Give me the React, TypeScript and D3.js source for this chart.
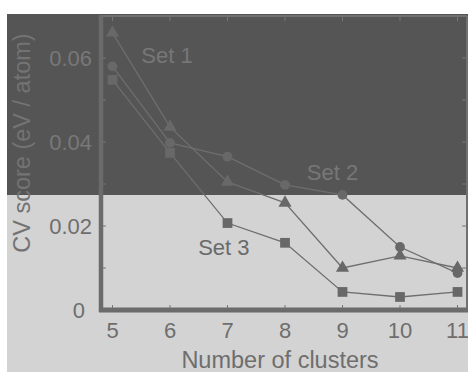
import React, { useRef, useEffect } from 'react';
import * as d3 from 'd3';

const clusters = [5, 6, 7, 8, 9, 10, 11];
const set1 = [0.066, 0.0436, 0.0305, 0.0255, 0.0100, 0.0129, 0.0100];
const set2 = [0.058, 0.0398, 0.0365, 0.0298, 0.0274, 0.0150, 0.0088];
const set3 = [0.0548, 0.0374, 0.0207, 0.0160, 0.0043, 0.0031, 0.0043];
const yMajor = [0, 0.02, 0.04, 0.06];
const yMinor = [0.01, 0.02, 0.03, 0.04, 0.05, 0.06];

const W = 468;
const H = 372;

const App = () => {
    const svgRef = useRef<SVGSVGElement>(null);

    useEffect(() => {
        draw();
    }, []);

    const draw = () => {
        const svg = d3.select(svgRef.current);
        svg.selectAll('*').remove();

        const x = d3.scaleLinear().domain([4.8, 11.165]).range([101, 467]);
        const y = d3.scaleLinear().domain([0, 0.07]).range([310, 16]);
        const font = 'Liberation Sans, Arial, sans-serif';

        // background bands
        svg.append('rect').attr('x', 0).attr('y', 0).attr('width', W).attr('height', H).attr('fill', '#ffffff');
        svg.append('rect').attr('x', 7).attr('y', 14).attr('width', W - 7).attr('height', 181).attr('fill', '#555555');
        svg.append('rect').attr('x', 7).attr('y', 195).attr('width', W - 7).attr('height', H - 195).attr('fill', '#d3d3d3');

        const [x0, x1] = x.range();
        const [yb, yt] = y.range();

        // ticks (inward, all sides)
        const ticks = svg.append('g').attr('stroke', '#777777').attr('stroke-width', 1);
        clusters.forEach((c) => {
            ticks.append('line').attr('x1', x(c)).attr('x2', x(c)).attr('y1', yb).attr('y2', yb - 5);
            ticks.append('line').attr('x1', x(c)).attr('x2', x(c)).attr('y1', yt).attr('y2', yt + 5);
        });
        yMinor.forEach((v) => {
            ticks.append('line').attr('x1', x0).attr('x2', x0 + 5).attr('y1', y(v)).attr('y2', y(v));
            ticks.append('line').attr('x1', x1).attr('x2', x1 - 5).attr('y1', y(v)).attr('y2', y(v));
        });

        // frame
        svg.append('line').attr('x1', x0).attr('x2', x1).attr('y1', yt).attr('y2', yt)
            .attr('stroke', '#707070').attr('stroke-width', 2);
        svg.append('line').attr('x1', x1).attr('x2', x1).attr('y1', yt).attr('y2', yb)
            .attr('stroke', '#707070').attr('stroke-width', 2);
        svg.append('line').attr('x1', x0).attr('x2', x0).attr('y1', yt - 1).attr('y2', yb + 2)
            .attr('stroke', '#6b6b6b').attr('stroke-width', 4.5);
        svg.append('line').attr('x1', x0 - 2).attr('x2', x1 + 1).attr('y1', yb).attr('y2', yb)
            .attr('stroke', '#6b6b6b').attr('stroke-width', 5);

        // tick labels
        svg.append('g')
            .selectAll('text')
            .data(clusters)
            .enter()
            .append('text')
            .attr('x', (d) => x(d))
            .attr('y', 338)
            .attr('text-anchor', 'middle')
            .attr('font-family', font)
            .attr('font-size', 22)
            .attr('fill', '#6e6e6e')
            .text((d) => d);

        svg.append('g')
            .selectAll('text')
            .data(yMajor)
            .enter()
            .append('text')
            .attr('x', (d) => (d === 0 ? 85 : 92))
            .attr('y', (d) => y(d) + 8)
            .attr('text-anchor', 'end')
            .attr('font-family', font)
            .attr('font-size', 22)
            .attr('fill', (d) => (y(d) < 195 ? '#787878' : '#6e6e6e'))
            .text((d) => (d === 0 ? '0' : d3.format('.2f')(d)));

        // axis titles
        svg.append('text')
            .attr('x', 280)
            .attr('y', 368)
            .attr('text-anchor', 'middle')
            .attr('font-family', font)
            .attr('font-size', 23.5)
            .attr('fill', '#6e6e6e')
            .text('Number of clusters');

        svg.append('text')
            .attr('transform', 'translate(30, 143) rotate(-90)')
            .attr('text-anchor', 'middle')
            .attr('font-family', font)
            .attr('font-size', 23.5)
            .attr('fill', '#737373')
            .text('CV score (eV / atom)');

        // lines
        const line = d3.line<number>()
            .x((d, i) => x(clusters[i]))
            .y((d) => y(d));

        const sets = [
            { values: set1, shape: 'triangle' },
            { values: set2, shape: 'circle' },
            { values: set3, shape: 'square' },
        ];

        sets.forEach((s) => {
            svg.append('path')
                .datum(s.values)
                .attr('d', line)
                .attr('fill', 'none')
                .attr('stroke', '#6e6e6e')
                .attr('stroke-width', 1.3);
        });

        sets.forEach((s) => {
            const sym = s.shape === 'triangle' ? d3.symbolTriangle : s.shape === 'circle' ? d3.symbolCircle : d3.symbolSquare;
            const size = s.shape === 'triangle' ? 75 : s.shape === 'circle' ? 75 : 95;
            svg.append('g')
                .selectAll('path')
                .data(s.values)
                .enter()
                .append('path')
                .attr('transform', (d, i) => `translate(${x(clusters[i])}, ${y(d)})`)
                .attr('d', d3.symbol().type(sym).size(size)())
                .attr('fill', '#686868');
        });

        // set labels
        const labels = [
            { name: 'Set 1', cx: 5.5, cy: 0.0588, color: '#777777' },
            { name: 'Set 2', cx: 8.38, cy: 0.031, color: '#777777' },
            { name: 'Set 3', cx: 6.49, cy: 0.0131, color: '#6a6a6a' },
        ];
        svg.selectAll('.set-label')
            .data(labels)
            .enter()
            .append('text')
            .attr('class', 'set-label')
            .attr('x', (d) => x(d.cx))
            .attr('y', (d) => y(d.cy))
            .attr('font-family', font)
            .attr('font-size', 22)
            .attr('fill', (d) => d.color)
            .text((d) => d.name);
    };

    return (
        <svg ref={svgRef} width={W} height={H} style={{ position: 'absolute', left: 0, top: 0 }}>
        </svg>
    );
};

export default App;
